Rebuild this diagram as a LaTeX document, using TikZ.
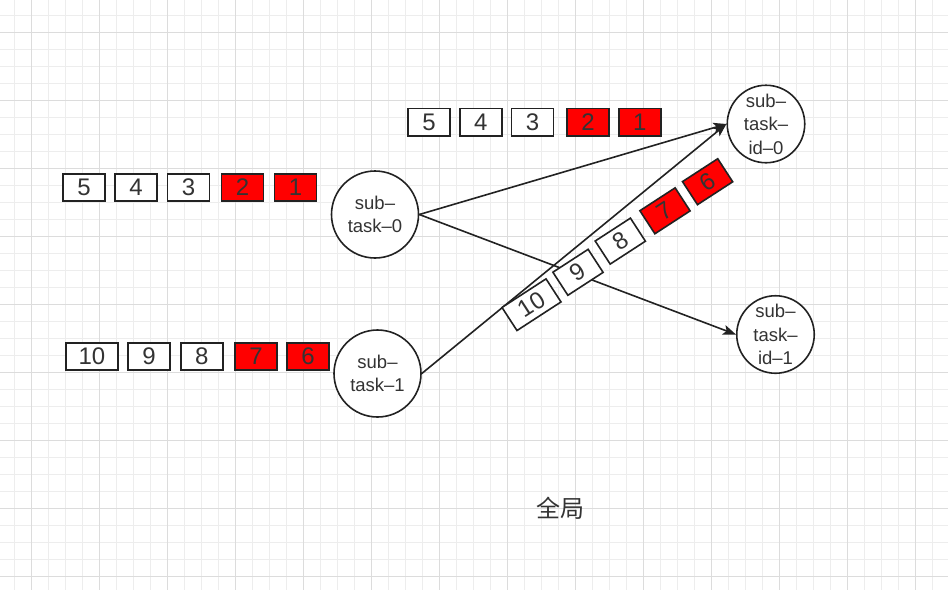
\documentclass[tikz,border=0pt]{standalone}
\usepackage{fontspec}
\setmainfont{Liberation Sans}
\newfontfamily\cjkfont{Noto Sans CJK SC}
\usepackage{xcolor}
\usepackage{tikz}
\usetikzlibrary{positioning,calc,arrows.meta,shapes}

\definecolor{gridminor}{HTML}{EDEDED}
\definecolor{gridmajor}{HTML}{DCDCDC}
\definecolor{strokec}{HTML}{222222}
\definecolor{textc}{HTML}{333333}
\definecolor{cellred}{HTML}{FF0000}

\tikzset{
	cell/.style={draw=strokec, line width=1.6pt, fill=white, text=textc, minimum width=42pt, minimum height=27.5pt, inner sep=0pt, font=\fontsize{24}{24}\selectfont},
	widecell/.style={cell, minimum width=52.5pt},
	hotcell/.style={cell, fill=cellred},
	task/.style={circle, draw=strokec, line width=1.6pt, fill=white, text=textc, minimum size=87pt, inner sep=0pt, align=center, font=\fontsize{18.5}{23.5}\selectfont},
	target/.style={task, minimum size=77.5pt},
	flow/.style={draw=strokec, line width=1.6pt, -{Stealth[length=13pt,width=10pt,inset=3pt]}}
}

\begin{document}
\begin{tikzpicture}[x=1pt,y=1pt]
		\path[use as bounding box, fill=white] (0,0) rectangle (948,-590);
		
		% grid
		\foreach \i in {0,...,54}
			\draw[gridminor, line width=0.9pt] ({14.5+17*\i},0) -- ({14.5+17*\i},-590);
		\foreach \j in {0,...,33}
			\draw[gridminor, line width=0.9pt] (0,{-15-17*\j}) -- (948,{-15-17*\j});
		\foreach \i in {1,5,...,53}
			\draw[gridmajor, line width=0.9pt] ({14.5+17*\i},0) -- ({14.5+17*\i},-590);
		\foreach \j in {1,5,...,33}
			\draw[gridmajor, line width=0.9pt] (0,{-15-17*\j}) -- (948,{-15-17*\j});
		
		\node[task] (taskzero) at (375,-214.5) {sub–\\task–0};
		\node[task] (taskone) at (377.5,-373.5) {sub–\\task–1};
		\node[target] (idzero) at (766,-124) {sub–\\task–\\id–0};
		\node[target] (idone) at (775.5,-334.5) {sub–\\task–\\id–1};
		
		\node[cell] (azfive) at (84,-187.5) {5};
		\node[cell] (azfour) at (136,-187.5) {4};
		\node[cell] (azthree) at (188.5,-187.5) {3};
		\node[hotcell] (aztwo) at (242.5,-187.5) {2};
		\node[hotcell] (azone) at (295.5,-187.5) {1};
		
		\node[cell] (bzfive) at (429,-122.3) {5};
		\node[cell] (bzfour) at (480.7,-122.3) {4};
		\node[cell] (bzthree) at (532.5,-122.3) {3};
		\node[hotcell] (bztwo) at (588,-122.3) {2};
		\node[hotcell] (bzone) at (639.7,-122.3) {1};
		
		\node[widecell] (aoten) at (92,-356.5) {10};
		\node[cell] (aonine) at (149,-356.5) {9};
		\node[cell] (aoeight) at (201.7,-356.5) {8};
		\node[hotcell] (aoseven) at (256,-356.5) {7};
		\node[hotcell] (aosix) at (308,-356.5) {6};
		
		\draw[flow] (taskzero.east) -- (idzero.west);
		\draw[flow] (taskzero.east) -- (idone.west);
		\draw[flow] (taskone.east) -- (idzero.west);
		
		\node[widecell, rotate=33] (boten) at (531.5,-304.7) {10};
		\node[cell, rotate=33] (bonine) at (578,-272.3) {9};
		\node[cell, rotate=33] (boeight) at (620.3,-241.1) {8};
		\node[hotcell, rotate=33] (boseven) at (665,-210.8) {7};
		\node[hotcell, rotate=33] (bosix) at (707.6,-181.7) {6};
		
		\node[text=textc, font=\cjkfont\fontsize{24}{24}\selectfont] (whole) at (560.2,-508.7) {全局};
\end{tikzpicture}
\end{document}
